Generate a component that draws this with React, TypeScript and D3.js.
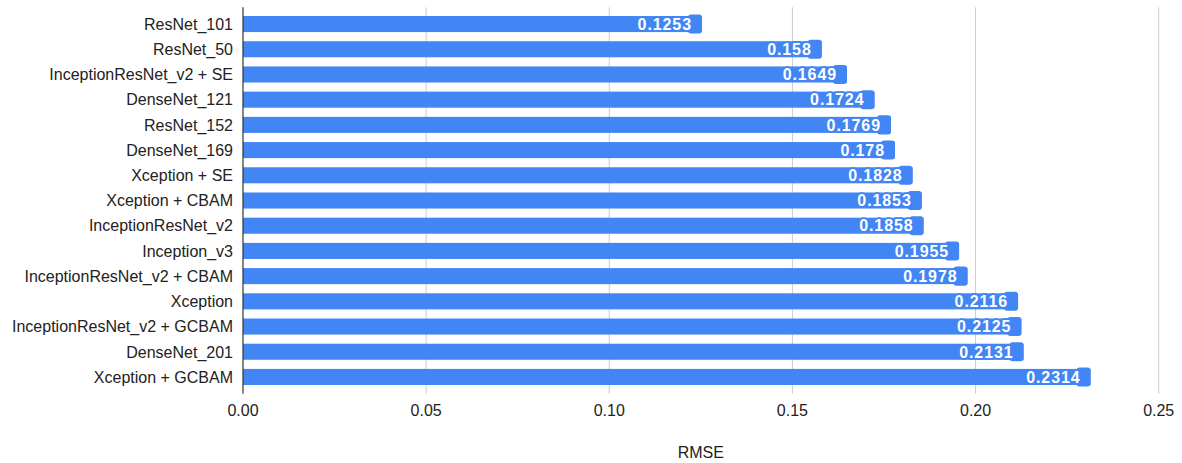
import React from "react";
import * as d3 from "d3";

const models = [
  "ResNet_101",
  "ResNet_50",
  "InceptionResNet_v2 + SE",
  "DenseNet_121",
  "ResNet_152",
  "DenseNet_169",
  "Xception + SE",
  "Xception + CBAM",
  "InceptionResNet_v2",
  "Inception_v3",
  "InceptionResNet_v2 + CBAM",
  "Xception",
  "InceptionResNet_v2 + GCBAM",
  "DenseNet_201",
  "Xception + GCBAM",
];

const rmse = [
  0.1253, 0.158, 0.1649, 0.1724, 0.1769, 0.178, 0.1828, 0.1853, 0.1858, 0.1955,
  0.1978, 0.2116, 0.2125, 0.2131, 0.2314,
];

const xTicks = [0, 0.05, 0.1, 0.15, 0.2, 0.25];
const axisTitle = "RMSE";

const W = 1182;
const H = 463;
const FONT = "'Liberation Sans', Arial, sans-serif";
const BAR = "#4285F4";

export default function App() {
  const left = 243;
  const right = 1158.7;
  const top = 7.3;
  const bottom = 393.7;

  const x = d3.scaleLinear().domain([0, 0.25]).range([left, right]);
  const y = d3
    .scaleBand<string>()
    .domain(models)
    .range([top, bottom])
    .paddingInner(0.363)
    .paddingOuter(0.346);
  const bw = y.bandwidth();

  return (
    <svg
      width={W}
      height={H}
      style={{ position: "absolute", left: 0, top: 0, display: "block", background: "#fff" }}
      fontFamily={FONT}
    >
      {/* vertical grid */}
      {xTicks.slice(1).map((t) => (
        <line key={t} x1={x(t)} x2={x(t)} y1={top} y2={bottom} stroke="#cccccc" strokeWidth={1} />
      ))}

      {/* bars */}
      {models.map((m, i) => (
        <rect key={m} x={x(0)} y={y(m)} width={x(rmse[i]) - x(0)} height={bw} fill={BAR} />
      ))}

      {/* value labels */}
      {models.map((m, i) => {
        const xe = x(rmse[i]);
        const yc = (y(m) as number) + bw / 2;
        return (
          <g key={m}>
            <rect x={xe - 14} y={yc - bw / 2 - 1.5} width={14} height={bw + 3} rx={3} fill={BAR} />
            <text
              x={xe - 10}
              y={yc}
              dy="0.36em"
              textAnchor="end"
              fontSize={16}
              fontWeight="bold"
              letterSpacing={0.9}
              fill="#ffffff"
              stroke={BAR}
              strokeWidth={3.5}
              strokeLinejoin="round"
              paintOrder="stroke"
            >
              {String(rmse[i])}
            </text>
          </g>
        );
      })}

      {/* category axis */}
      <line x1={left} x2={left} y1={top} y2={bottom} stroke="#333333" strokeWidth={1.2} />
      {models.map((m) => (
        <text
          key={m}
          x={233}
          y={(y(m) as number) + bw / 2}
          dy="0.36em"
          textAnchor="end"
          fontSize={16}
          fill="#222222"
        >
          {m}
        </text>
      ))}

      {/* value axis ticks */}
      {xTicks.map((t) => (
        <text key={t} x={x(t)} y={416} textAnchor="middle" fontSize={16} fill="#222222">
          {d3.format(".2f")(t)}
        </text>
      ))}
      <text x={(left + right) / 2} y={458} textAnchor="middle" fontSize={16} fill="#222222">
        {axisTitle}
      </text>
    </svg>
  );
}
